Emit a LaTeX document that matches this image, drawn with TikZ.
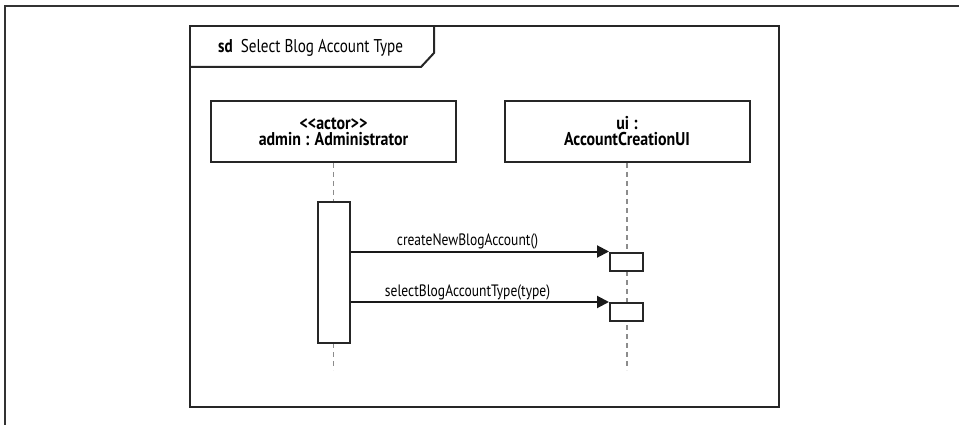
\documentclass[tikz,border=0pt]{standalone}
\usepackage{fontspec}
\newfontfamily\myr[FakeStretch=0.82]{PT Sans}
\newfontfamily\myrb[FakeStretch=0.86]{PT Sans}
\usetikzlibrary{arrows.meta}
\tikzset{
  frameline/.style={line width=2pt, draw=black!85},
  lifebox/.style={frameline, fill=white, minimum width=245pt, minimum height=61pt, inner sep=0pt, align=center},
  lifetext/.style={inner sep=0pt, anchor=base, text height=13.5pt, text depth=0pt, font=\myrb\bfseries\fontsize{18.5}{20}\selectfont},
  lifeline/.style={draw=black!45, line width=1.5pt, dash pattern=on 5pt off 4pt},
  activation/.style={frameline, fill=white, minimum width=32pt, inner sep=0pt},
  msg/.style={line width=2pt, draw=black!90, -{Triangle[length=12pt,width=12pt]}},
  msglabel/.style={font=\myr\fontsize{16.5}{20}\selectfont, anchor=base, inner sep=0pt},
}
\begin{document}
\begin{tikzpicture}[x=1pt,y=-1pt]
\useasboundingbox (0,0) rectangle (959,425);
% outer page lines
\draw[line width=2pt, draw=black!80] (5,425) -- (5,6) -- (959,6);
% frame
\draw[frameline] (190,26.5) rectangle (778.5,406.5);
\draw[frameline] (190,67) -- (421,67) -- (434,53) -- (434,26.5);
\node[anchor=base west, inner sep=0pt, font=\myr\fontsize{18.5}{20}\selectfont] (title) at (218,53) {\textbf{sd}\hspace{8pt}Select Blog Account Type};
% lifeline heads
\node[lifebox] (admin) at (333.5,131.5) {};
\node[lifebox] (ui) at (627,131.5) {};
\node[lifetext] (admin1) at (333.5,129.5) {<<actor>>};
\node[lifetext] (admin2) at (333.5,146) {admin : Administrator};
\node[lifetext] (ui1) at (627,129.5) {ui :};
\node[lifetext] (ui2) at (627,146) {AccountCreationUI};
% lifelines
\coordinate (adminend) at (333.5,370);
\coordinate (uiend) at (627,370);
\draw[lifeline] (admin.south) -- (adminend);
\draw[lifeline] (ui.south) -- (uiend);
% activations
\node[activation, minimum height=141pt] (act) at (333.5,272.5) {};
\node[activation, minimum height=18pt, minimum width=33pt] (u1) at (626.5,261.5) {};
\node[activation, minimum height=18pt, minimum width=33pt] (u2) at (626.5,312) {};
% messages
\draw[msg] (act.east |- u1.north) -- (u1.north west);
\draw[msg] (act.east |- u2.north) -- (u2.north west);
\node[msglabel] (l1) at (467.5,245) {createNewBlogAccount()};
\node[msglabel] (l2) at (467.5,296) {selectBlogAccountType(type)};
\end{tikzpicture}
\end{document}
